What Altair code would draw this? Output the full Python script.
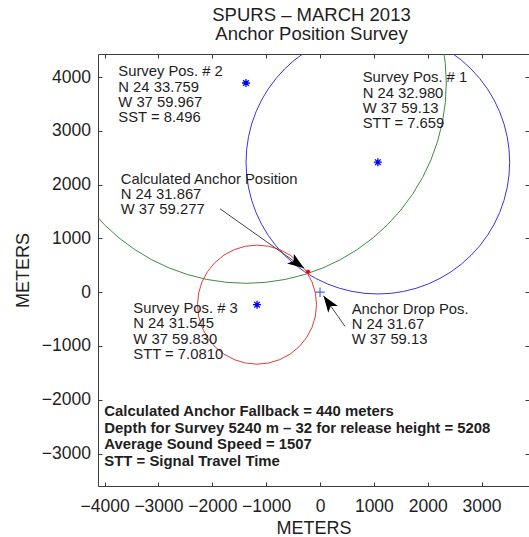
import math

import altair as alt
import pandas as pd

FONT = "Liberation Sans"
INK = "#1e1e1e"
AXIS_INK = "#3c3c3c"

# Plot extents in metres relative to the anchor drop position
X_DOMAIN = [-4123, 3881]
Y_DOMAIN = [-3603, 4429]
X_TICKS = [-4000, -3000, -2000, -1000, 0, 1000, 2000, 3000]
Y_TICKS = [-3000, -2000, -1000, 0, 1000, 2000, 3000, 4000]
PLOT_W = 431
PLOT_H = 432
PX_PER_M = PLOT_W / (X_DOMAIN[1] - X_DOMAIN[0])

# Survey positions and the horizontal range circles around them
survey_names = ["Survey Pos. # 1", "Survey Pos. # 2", "Survey Pos. # 3"]
survey_x = [1074, -1375, -1170]
survey_y = [2418, 3890, -231]
range_m = [2448, 3720, 1105]
range_colors = ["#3535e0", "#3d8d3d", "#e63a3a"]

# Anchor drop point and the calculated anchor position
drop_x = [0]
drop_y = [0]
calc_x = [-223]
calc_y = [381]

# Annotation arrows (tail -> head)
arrow_tail_x = [-1857, 464]
arrow_tail_y = [1551, -635]
arrow_head_x = [-297, 65]
arrow_head_y = [446, -65]

# Annotation blocks: anchor point of the first text line and the lines
note_x = [-3746, 793, -3701, -3467, 589]
note_y = [4011, 3900, 2015, -390, -399]
note_lines = [
    ["Survey Pos. # 2", "N 24 33.759", "W 37 59.967", "SST = 8.496"],
    ["Survey Pos. # 1", "N 24 32.980", "W 37 59.13", "STT = 7.659"],
    ["Calculated Anchor Position", "N 24 31.867", "W 37 59.277"],
    ["Survey Pos. # 3", "N 24 31.545", "W 37 59.830", "STT = 7.0810"],
    ["Anchor Drop Pos.", "N 24 31.67", "W 37 59.13"],
]
summary_x = [-4006]
summary_y = [-2303]
summary_lines = [
    "Calculated Anchor Fallback = 440 meters",
    "Depth for Survey 5240 m \u2013 32 for release height = 5208",
    "Average Sound Speed = 1507",
    "STT = Signal Travel Time",
]

ASTERISK = "M-1,0L1,0M0,-1L0,1M-0.7,-0.7L0.7,0.7M-0.7,0.7L0.7,-0.7"
PLUS = "M-1,0L1,0M0,-1L0,1"
# arrow head with its tip at the symbol origin, pointing up before rotation
HEAD = "M0,0L-0.6,1.7L0,1.3L0.6,1.7Z"

xs = alt.Scale(domain=X_DOMAIN, nice=False, zero=False)
ys = alt.Scale(domain=Y_DOMAIN, nice=False, zero=False)

# point area grows with the square of the radius: diameter = sqrt(size)
size_scale = alt.Scale(type="pow", exponent=2, domain=[0, 1000],
                       range=[0, (2 * PX_PER_M * 1000) ** 2])


def main_axis(orient, values, label_pad, title_pad):
    return alt.Axis(orient=orient, values=values, title="METERS", format="d",
                    ticks=False, tickSize=0, domain=True, domainColor=AXIS_INK,
                    domainWidth=1, grid=False, labelFont=FONT, labelFontSize=17.5,
                    labelColor=INK, labelPadding=label_pad, labelOverlap=False,
                    labelFlush=False, labelBound=False, titleFont=FONT,
                    titleFontSize=18, titleFontWeight="normal", titleColor=INK,
                    titlePadding=title_pad)


def inward_ticks(orient, values):
    return alt.Axis(orient=orient, values=values, offset=-4, tickSize=4,
                    tickColor=AXIS_INK, tickWidth=1, domain=False, labels=False,
                    grid=False, title=None)


top_border = alt.Axis(orient="top", values=X_TICKS, ticks=False, domain=True,
                      domainColor=AXIS_INK, domainWidth=1, labels=False,
                      grid=False, title=None)

circles_df = pd.DataFrame({"name": survey_names, "cx": survey_x,
                           "cy": survey_y, "r": range_m})
circles = alt.Chart(circles_df).mark_point(
    shape="circle", filled=False, opacity=1, strokeWidth=1, clip=True
).encode(
    x=alt.X("cx:Q", scale=xs, axis=main_axis("bottom", X_TICKS, 11, 5)),
    y=alt.Y("cy:Q", scale=ys, axis=main_axis("left", Y_TICKS, 7.5, 9)),
    size=alt.Size("r:Q", scale=size_scale, legend=None),
    color=alt.Color("name:N", scale=alt.Scale(domain=survey_names,
                                              range=range_colors), legend=None),
)

stars = alt.Chart(circles_df).mark_point(
    shape=ASTERISK, filled=False, opacity=1, strokeWidth=1.3, size=64,
    color="#0000ff"
).encode(
    x=alt.X("cx:Q", scale=xs, axis=inward_ticks("bottom", X_TICKS)),
    y=alt.Y("cy:Q", scale=ys, axis=inward_ticks("left", Y_TICKS)),
)

drop = alt.Chart(pd.DataFrame({"x": drop_x, "y": drop_y})).mark_point(
    shape=PLUS, filled=False, opacity=1, strokeWidth=1.2, size=90,
    color="#5a5af0"
).encode(
    x=alt.X("x:Q", scale=xs, axis=top_border),
    y=alt.Y("y:Q", scale=ys, axis=inward_ticks("right", Y_TICKS)),
)

calc = alt.Chart(pd.DataFrame({"x": calc_x, "y": calc_y})).mark_point(
    shape=ASTERISK, filled=False, opacity=1, strokeWidth=1.2, size=18,
    color="#ff0000"
).encode(
    x=alt.X("x:Q", scale=xs, axis=inward_ticks("top", X_TICKS)),
    y=alt.Y("y:Q", scale=ys, axis=None),
)

arrows_df = pd.DataFrame({"x0": arrow_tail_x, "y0": arrow_tail_y,
                          "x1": arrow_head_x, "y1": arrow_head_y})
# heading of each arrow, clockwise from north (equal metres per pixel on both axes)
arrows_df["heading"] = [
    math.degrees(math.atan2(x1 - x0, y1 - y0)) % 360
    for x0, y0, x1, y1 in zip(arrow_tail_x, arrow_tail_y, arrow_head_x, arrow_head_y)
]

shafts = alt.Chart(arrows_df).mark_rule(color="#444444", strokeWidth=1).encode(
    x=alt.X("x0:Q", scale=xs, axis=None),
    y=alt.Y("y0:Q", scale=ys, axis=None),
    x2="x1:Q",
    y2="y1:Q",
)

heads = alt.Chart(arrows_df).mark_point(
    shape=HEAD, filled=True, opacity=1, size=380, color="#000000", strokeWidth=0
).encode(
    x=alt.X("x1:Q", scale=xs, axis=None),
    y=alt.Y("y1:Q", scale=ys, axis=None),
    angle=alt.Angle("heading:Q", scale=None),
)

notes_df = pd.DataFrame({"x": note_x, "y": note_y,
                         "label": ["\n".join(lines) for lines in note_lines]})
notes = alt.Chart(notes_df).mark_text(
    align="left", baseline="alphabetic", font=FONT, fontSize=14.8,
    lineHeight=15.3, lineBreak="\n", color=INK
).encode(
    x=alt.X("x:Q", scale=xs, axis=None),
    y=alt.Y("y:Q", scale=ys, axis=None),
    text="label:N",
)

summary_df = pd.DataFrame({"x": summary_x, "y": summary_y,
                           "label": ["\n".join(summary_lines)]})
summary = alt.Chart(summary_df).mark_text(
    align="left", baseline="alphabetic", font=FONT, fontSize=14.9,
    fontWeight="bold", lineHeight=16.7, lineBreak="\n", color=INK
).encode(
    x=alt.X("x:Q", scale=xs, axis=None),
    y=alt.Y("y:Q", scale=ys, axis=None),
    text="label:N",
)

chart = alt.layer(
    circles, stars, drop, calc, shafts, heads, notes, summary
).resolve_axis(
    x="independent", y="independent"
).properties(
    width=PLOT_W,
    height=PLOT_H,
    autosize=alt.AutoSizeParams(type="none"),
    padding={"left": 98, "top": 54, "right": 0, "bottom": 51},
    background="white",
    title=alt.TitleParams(
        text=["SPURS \u2013 MARCH 2013", "Anchor Position Survey"],
        font=FONT, fontSize=18.5, fontWeight="normal", color=INK,
        anchor="middle", lineHeight=19, offset=10, dx=-2,
    ),
).configure_view(stroke=None)

chart.save("out.html", embed_options={"renderer": "svg", "actions": False})
